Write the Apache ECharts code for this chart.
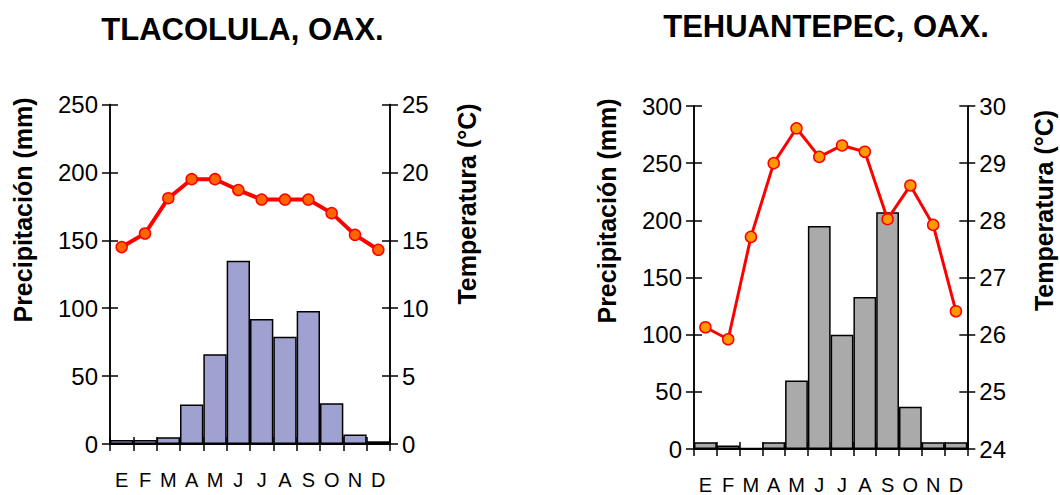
<!DOCTYPE html>
<html>
<head>
<meta charset="utf-8">
<script src="https://cdn.jsdelivr.net/npm/echarts@6/dist/echarts.min.js"></script>
<style>html,body{margin:0;padding:0;background:#fff;}#c{width:1060px;height:495px;}</style>
</head>
<body>
<div id="c"></div>
<script>
var months = ['E','F','M','A','M','J','J','A','S','O','N','D'];
var tlaPrecip = [3, 3, 5, 29, 66, 135, 92, 79, 98, 30, 7, 2];
var tlaTemp = [14.5, 15.5, 18.1, 19.5, 19.5, 18.7, 18.0, 18.0, 18.0, 17.0, 15.4, 14.3];
var tehPrecip = [6, 3, 1, 6, 60, 195, 100, 133, 207, 37, 6, 6];
var tehTemp = [26.13, 25.92, 27.71, 29.0, 29.61, 29.11, 29.31, 29.2, 28.02, 28.61, 27.92, 26.41];
var tlaPrecipTicks = {min: 0, max: 250, interval: 50};
var tlaTempTicks = {min: 0, max: 25, interval: 5};
var tehPrecipTicks = {min: 0, max: 300, interval: 50};
var tehTempTicks = {min: 24, max: 30, interval: 1};

var FONT = 'Liberation Sans, Arial, Helvetica, sans-serif';
var chart = echarts.init(document.getElementById('c'), null, {renderer: 'svg'});

function xAx(grid, inside, show) {
  return {
    type: 'category', gridIndex: grid, data: months, position: 'bottom',
    boundaryGap: true,
    axisLine: {show: true, onZero: false, lineStyle: {color: '#000', width: 2}},
    axisTick: {show: true, inside: inside, length: 7, alignWithLabel: false, lineStyle: {color: '#000', width: 1.5}},
    axisLabel: {show: show, color: '#000', fontSize: 20, fontFamily: FONT, margin: 26},
    splitLine: {show: false}
  };
}
function yAx(grid, pos, t, inside, show) {
  return {
    type: 'value', gridIndex: grid, position: pos, min: t.min, max: t.max, interval: t.interval,
    axisLine: {show: true, onZero: false, lineStyle: {color: '#000', width: 1.5}},
    axisTick: {show: true, inside: inside, length: 8, lineStyle: {color: '#000', width: 1.5}},
    axisLabel: {show: show, color: '#000', fontSize: 24, fontFamily: FONT, margin: 12},
    splitLine: {show: false}
  };
}
function txt(x, y, s, size, rot) {
  return {
    type: 'text', x: x, y: y, rotation: rot || 0,
    style: {text: s, fontSize: size, fontWeight: 'bold', fontFamily: FONT, fill: '#000',
      align: 'center', verticalAlign: 'middle'}
  };
}

chart.setOption({
  animation: false,
  grid: [
    {left: 110, top: 104.5, width: 280, height: 339.5},
    {left: 694, top: 106, width: 273.3, height: 343.5}
  ],
  xAxis: [xAx(0, false, true), xAx(0, true, false), xAx(1, false, true), xAx(1, true, false)],
  yAxis: [
    yAx(0, 'left', tlaPrecipTicks, false, true), yAx(0, 'left', tlaPrecipTicks, true, false),
    yAx(0, 'right', tlaTempTicks, false, true), yAx(0, 'right', tlaTempTicks, true, false),
    yAx(1, 'left', tehPrecipTicks, false, true), yAx(1, 'left', tehPrecipTicks, true, false),
    yAx(1, 'right', tehTempTicks, false, true), yAx(1, 'right', tehTempTicks, true, false)
  ],
  series: [
    {type: 'bar', xAxisIndex: 0, yAxisIndex: 0, data: tlaPrecip, barCategoryGap: '0%',
      itemStyle: {color: '#9fa1d0', borderColor: '#000', borderWidth: 1.5}},
    {type: 'line', xAxisIndex: 0, yAxisIndex: 2, data: tlaTemp, symbol: 'circle', symbolSize: 11,
      lineStyle: {color: '#ff0000', width: 4},
      itemStyle: {color: '#ff6600', borderColor: '#ff0000', borderWidth: 1.5}, z: 5},
    {type: 'bar', xAxisIndex: 2, yAxisIndex: 4, data: tehPrecip, barCategoryGap: '0%',
      itemStyle: {color: '#aaaaaa', borderColor: '#000', borderWidth: 1.5}},
    {type: 'line', xAxisIndex: 2, yAxisIndex: 6, data: tehTemp, symbol: 'circle', symbolSize: 11,
      lineStyle: {color: '#ff0000', width: 3},
      itemStyle: {color: '#ff9900', borderColor: '#ff0000', borderWidth: 1.5}, z: 5}
  ],
  graphic: [
    txt(242.5, 29.5, 'TLACOLULA, OAX.', 31),
    txt(826, 26, 'TEHUANTEPEC, OAX.', 31),
    txt(23, 210, 'Precipitación (mm)', 25, Math.PI / 2),
    txt(466.7, 204, 'Temperatura (°C)', 25, Math.PI / 2),
    txt(606.7, 211, 'Precipitación (mm)', 25, Math.PI / 2),
    txt(1044, 210.5, 'Temperatura (°C)', 25, Math.PI / 2)
  ]
});
</script>
</body>
</html>
